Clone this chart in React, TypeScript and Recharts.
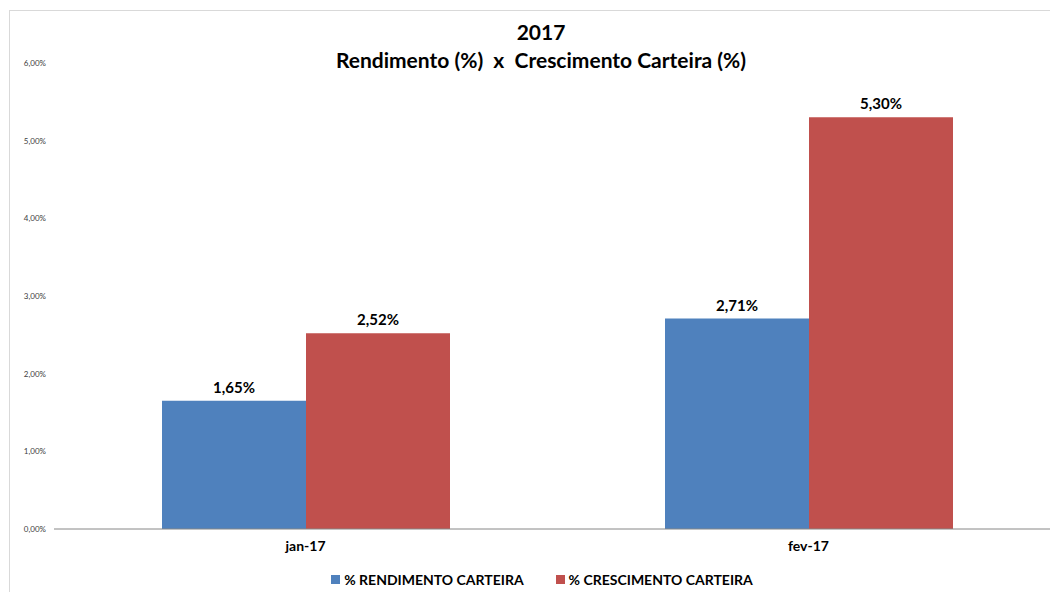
import { BarChart, Bar, XAxis, YAxis, Legend, LabelList } from 'recharts';

const months = ['jan-17', 'fev-17'];
const rendimento = [1.65, 2.71];
const crescimento = [2.52, 5.3];
const yTicks = [0, 1, 2, 3, 4, 5, 6];

const seriesNames = ['% RENDIMENTO CARTEIRA', '% CRESCIMENTO CARTEIRA'];
const seriesColors = ['#4f81bd', '#c0504d'];

const chartData = months.map((m, i) => ({
  month: m,
  rendimento: rendimento[i],
  crescimento: crescimento[i],
}));

const FONT = 'Lato, "Open Sans", sans-serif';

const pct = (v: number) => `${v.toFixed(2).replace('.', ',')}%`;

function LegendBox() {
  return (
    <div
      style={{
        display: 'flex',
        justifyContent: 'center',
        alignItems: 'center',
        paddingLeft: 16,
        height: 20,
        fontFamily: FONT,
      }}
    >
      {seriesNames.map((name, i) => (
        <div key={name} style={{ display: 'flex', alignItems: 'center', marginLeft: i === 0 ? 0 : 32 }}>
          <span style={{ width: 9, height: 9, background: seriesColors[i], display: 'inline-block', marginRight: 4 }} />
          <span style={{ color: '#000', fontWeight: 'bold', fontSize: 14 }}>{name}</span>
        </div>
      ))}
    </div>
  );
}

export default function App() {
  return (
    <div style={{ position: 'relative', width: 1050, height: 584, overflow: 'hidden', fontFamily: FONT }}>
      <div
        style={{
          position: 'absolute',
          left: 1,
          top: 2,
          width: 1100,
          height: 700,
          border: '1px solid #d9d9d9',
          boxSizing: 'border-box',
        }}
      />
      <div
        style={{
          position: 'absolute',
          left: 0,
          width: 1066,
          top: 10,
          textAlign: 'center',
          fontWeight: 'bold',
          fontSize: 21,
          lineHeight: '28px',
          color: '#000',
          whiteSpace: 'pre',
        }}
      >
        <div>2017</div>
        <div>{'Rendimento (%)  x  Crescimento Carteira (%)'}</div>
      </div>
      <BarChart
        width={1052}
        height={584}
        data={chartData}
        margin={{ top: 55, right: 0, left: 0, bottom: 13 }}
        barGap={0}
        style={{ position: 'absolute', left: 0, top: 0 }}
      >
        <XAxis
          dataKey="month"
          height={30}
          axisLine={{ stroke: '#868686' }}
          tickLine={false}
          tick={{ fontSize: 14, fontWeight: 'bold', fill: '#000', fontFamily: FONT }}
          tickMargin={6}
        />
        <YAxis
          width={46}
          domain={[0, 6]}
          ticks={yTicks}
          axisLine={false}
          tickLine={false}
          tickSize={0}
          tickMargin={8}
          tickFormatter={pct}
          tick={{ fontSize: 8, fill: '#404040', fontFamily: FONT }}
        />
        <Legend height={20} content={() => <LegendBox />} wrapperStyle={{ bottom: 3 }} />
        <Bar dataKey="rendimento" name={seriesNames[0]} fill={seriesColors[0]} barSize={144} isAnimationActive={false}>
          <LabelList
            dataKey="rendimento"
            position="top"
            offset={8}
            formatter={(v: any) => pct(Number(v))}
            style={{ fontSize: 15, fontWeight: 'bold', fill: '#000', fontFamily: FONT }}
          />
        </Bar>
        <Bar dataKey="crescimento" name={seriesNames[1]} fill={seriesColors[1]} barSize={144} isAnimationActive={false}>
          <LabelList
            dataKey="crescimento"
            position="top"
            offset={8}
            formatter={(v: any) => pct(Number(v))}
            style={{ fontSize: 15, fontWeight: 'bold', fill: '#000', fontFamily: FONT }}
          />
        </Bar>
      </BarChart>
    </div>
  );
}
